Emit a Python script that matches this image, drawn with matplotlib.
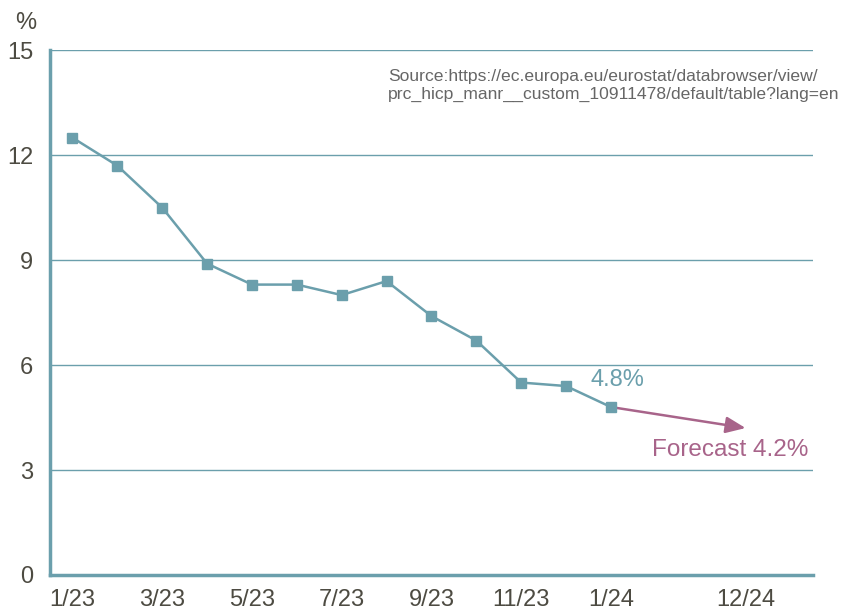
import matplotlib
matplotlib.use('Agg')
import matplotlib.pyplot as plt

# Данные: инфляция по месяцам
months = ['1/23', '2/23', '3/23', '4/23', '5/23', '6/23', '7/23',
          '8/23', '9/23', '10/23', '11/23', '12/23', '1/24']
values = [12.5, 11.7, 10.5, 8.9, 8.3, 8.3, 8.0, 8.4, 7.4, 6.7, 5.5, 5.4, 4.8]

tick_labels = ['1/23', '3/23', '5/23', '7/23', '9/23', '11/23', '1/24', '12/24']
tick_positions = [0, 2, 4, 6, 8, 10, 12, 15]
forecast_pos = 15
forecast_value = 4.2

TEAL = '#6b9fac'
MAUVE = '#a8648a'
GRAY = '#4d4b42'

plt.rcParams['font.family'] = ['Liberation Sans', 'DejaVu Sans']

fig = plt.figure(figsize=(8.43, 6.12), dpi=100)
ax = fig.add_axes([0.0593, 0.0605, 0.905, 0.8575])

x = list(range(len(months)))
ax.plot(x, values, color=TEAL, lw=1.8, marker='s', ms=7.5, zorder=3)

# Прогноз стрелкой
ax.annotate('', xy=(forecast_pos, forecast_value), xytext=(x[-1], values[-1]),
            arrowprops=dict(arrowstyle='-|>,head_length=1.2,head_width=0.5',
                            color=MAUVE, lw=1.8, shrinkA=4, shrinkB=0), zorder=2)

ax.text(x[-1] - 0.45, values[-1] + 0.45, f'{values[-1]}%', color=TEAL,
        fontsize=17, ha='left', va='bottom')
ax.text(forecast_pos + 1.4, forecast_value - 0.3, f'Forecast {forecast_value}%',
        color=MAUVE, fontsize=17.5, ha='right', va='top')

ax.set_xlim(-0.5, 16.5)
ax.set_ylim(0, 15)
ax.set_yticks([0, 3, 6, 9, 12, 15])
ax.set_xticks(tick_positions)
ax.set_xticklabels(tick_labels)
ax.tick_params(length=0, labelsize=17, labelcolor=GRAY)
ax.tick_params(axis='y', pad=12)
ax.tick_params(axis='x', pad=10)

ax.grid(axis='y', color=TEAL, lw=1)
ax.set_axisbelow(True)
for s in ['top', 'right']:
    ax.spines[s].set_visible(False)
for s in ['left', 'bottom']:
    ax.spines[s].set_color(TEAL)
    ax.spines[s].set_linewidth(2.5)

fig.text(0.03, 0.962, '%', fontsize=17, color=GRAY, ha='center', va='center')
ax.text(0.443, 0.965,
        'Source:https://ec.europa.eu/eurostat/databrowser/view/\n'
        'prc_hicp_manr__custom_10911478/default/table?lang=en',
        transform=ax.transAxes, fontsize=12.6, color='#666666',
        ha='left', va='top', linespacing=1.25)

fig.savefig('out.png', dpi=100)
